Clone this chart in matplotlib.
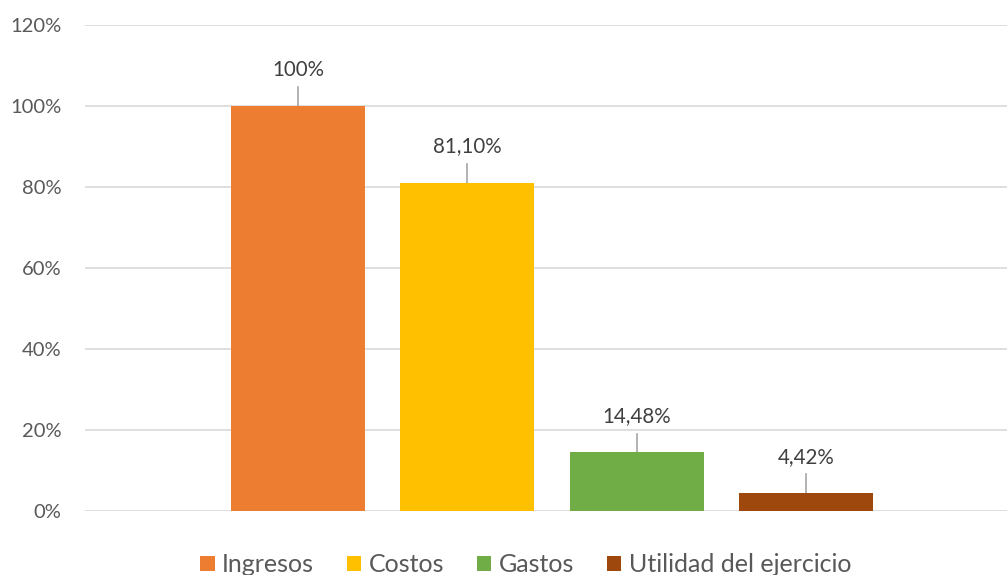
import matplotlib
matplotlib.use("Agg")
import matplotlib.pyplot as plt
from matplotlib.patches import Patch

categories = ["Ingresos", "Costos", "Gastos", "Utilidad del ejercicio"]
values = [100.0, 81.10, 14.48, 4.42]
labels = ["100%", "81,10%", "14,48%", "4,42%"]
colors = ["#ED7D31", "#FFC000", "#70AD47", "#9E480E"]
yticks = [0, 20, 40, 60, 80, 100, 120]
ytick_labels = ["0%", "20%", "40%", "60%", "80%", "100%", "120%"]

plt.rcParams['font.family'] = ['Lato', 'DejaVu Sans']

fig = plt.figure(figsize=(10.07, 5.75), dpi=100)
ax = fig.add_axes([85/1007, 64/575, 1 - 85/1007, (511-25)/575])

x = list(range(len(categories)))
ax.bar(x, values, width=0.793, color=colors, zorder=3)

for xi, v, lab in zip(x, values, labels):
    ax.plot([xi, xi], [v, v + 4.6], color="#A6A6A6", lw=1.2, zorder=2)
    ax.text(xi, v + 9.0, lab, ha="center", va="center", fontsize=14.8, color="#404040")

ax.set_xlim(-1.260, 4.189)
ax.set_ylim(0, 120)
ax.set_yticks(yticks)
ax.set_yticklabels(ytick_labels, fontsize=14.5, color="#595959")
ax.set_xticks([])
ax.tick_params(axis="y", length=0, pad=17)
ax.grid(axis="y", color="#D9D9D9", lw=1.2, zorder=0)
for s in ax.spines.values():
    s.set_visible(False)

handles = [Patch(facecolor=c, edgecolor="none") for c in colors]
fig.legend(handles, categories, loc="center", bbox_to_anchor=(0.522, 0.018), ncol=4,
           frameon=False, fontsize=18, handlelength=0.58, handleheight=0.58,
           handletextpad=0.3, columnspacing=1.3, labelcolor="#595959",
           borderpad=0, borderaxespad=0)

fig.savefig("out.png", dpi=100)
